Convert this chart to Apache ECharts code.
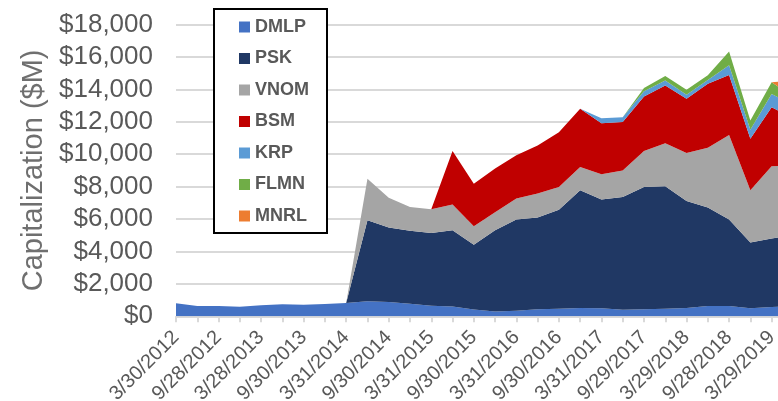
<!DOCTYPE html>
<html>
<head>
<meta charset="utf-8">
<script src="https://cdn.jsdelivr.net/npm/echarts@6/dist/echarts.min.js"></script>
<style>
html,body{margin:0;padding:0;background:#fff;}
#chart{width:778px;height:401px;}
</style>
</head>
<body>
<div id="chart"></div>
<script>
const categories = ["3/30/2012","6/29/2012","9/28/2012","12/31/2012","3/28/2013","6/28/2013","9/30/2013","12/31/2013","3/31/2014","6/30/2014","9/30/2014","12/31/2014","3/31/2015","6/30/2015","9/30/2015","12/31/2015","3/31/2016","6/30/2016","9/30/2016","12/30/2016","3/31/2017","6/30/2017","9/29/2017","12/29/2017","3/29/2018","6/29/2018","9/28/2018","12/31/2018","3/29/2019","6/28/2019"];
const DMLP = [800,630,630,590,680,740,720,760,820,930,880,780,650,610,420,300,350,430,470,510,490,410,430,470,510,630,630,490,570,640];
const PSK  = [0,0,0,0,0,0,0,0,0,5000,4600,4490,4490,4700,3990,5010,5620,5660,6110,7260,6710,6950,7550,7550,6610,6080,5340,4060,4230,4360];
const VNOM = [0,0,0,0,0,0,0,0,0,2560,1840,1470,1460,1580,1150,1110,1290,1480,1400,1440,1560,1640,2210,2660,2950,3690,5210,3220,4450,4320];
const BSM  = [0,0,0,0,0,0,0,0,0,0,0,0,0,3300,2620,2690,2670,2970,3380,3590,3150,2990,3370,3550,3350,3940,3710,3180,3650,2920];
const KRP  = [0,0,0,0,0,0,0,0,0,0,0,0,0,0,0,0,0,0,0,0,310,290,320,310,240,240,590,560,820,790];
const FLMN = [0,0,0,0,0,0,0,0,0,0,0,0,0,0,0,0,0,0,0,0,0,0,210,290,310,290,860,570,720,520];
const MNRL = [0,0,0,0,0,0,0,0,0,0,0,0,0,0,0,0,0,0,0,0,0,0,0,0,0,0,0,0,0,1000];
const yTicks = [0,2000,4000,6000,8000,10000,12000,14000,16000,18000];

const seriesDefs = [
  ["DMLP", DMLP, "#4472C4"],
  ["PSK", PSK, "#203864"],
  ["VNOM", VNOM, "#A5A5A5"],
  ["BSM", BSM, "#C00000"],
  ["KRP", KRP, "#5B9BD5"],
  ["FLMN", FLMN, "#70AD47"],
  ["MNRL", MNRL, "#ED7D31"]
];
const FONT = "Liberation Sans";
const chart = echarts.init(document.getElementById('chart'), null, {renderer:'canvas'});
chart.setOption({
  animation:false,
  backgroundColor:'#fff',
  textStyle:{fontFamily:FONT},
  grid:{left:176, right:-14.9, top:24.5, bottom:84.7, containLabel:false, outerBoundsMode:'none'},
  legend:{
    orient:'vertical', left:214, top:9,
    icon:'rect', itemWidth:11, itemHeight:11, itemGap:13.5, itemTextGap:5,
    padding:[9,18,8,25],
    borderColor:'#000', borderWidth:2, backgroundColor:'#fff',
    textStyle:{fontFamily:FONT, fontSize:18, fontWeight:'bold', color:'#595959', lineHeight:18},
    data: seriesDefs.map(d=>d[0])
  },
  xAxis:{
    type:'category', data:categories, boundaryGap:false,
    axisLine:{lineStyle:{color:'#d9d9d9', width:2}},
    axisTick:{show:true, interval:0, length:6, lineStyle:{color:'#d9d9d9', width:2}},
    axisLabel:{interval:1, rotate:45, fontSize:20, color:'#595959', margin:18, fontFamily:FONT},
    splitLine:{show:false}
  },
  yAxis:{
    type:'value', min:yTicks[0], max:yTicks[yTicks.length-1], interval:2000,
    name:'Capitalization ($M)', nameLocation:'middle', nameRotate:90, nameGap:125,
    nameTextStyle:{fontSize:29, color:'#6f6f6f', fontFamily:FONT},
    axisLine:{show:false}, axisTick:{show:false},
    axisLabel:{fontSize:26, color:'#595959', margin:23, fontFamily:FONT,
      formatter:v=>'$'+v.toLocaleString('en-US')},
    splitLine:{lineStyle:{color:'#d9d9d9', width:2}}
  },
  series: seriesDefs.map(d=>({
    name:d[0], type:'line', stack:'total', data:d[1],
    symbol:'none', showSymbol:false,
    lineStyle:{width:0, color:d[2]},
    itemStyle:{color:d[2]},
    areaStyle:{color:d[2], opacity:1}
  }))
});
</script>
</body>
</html>
